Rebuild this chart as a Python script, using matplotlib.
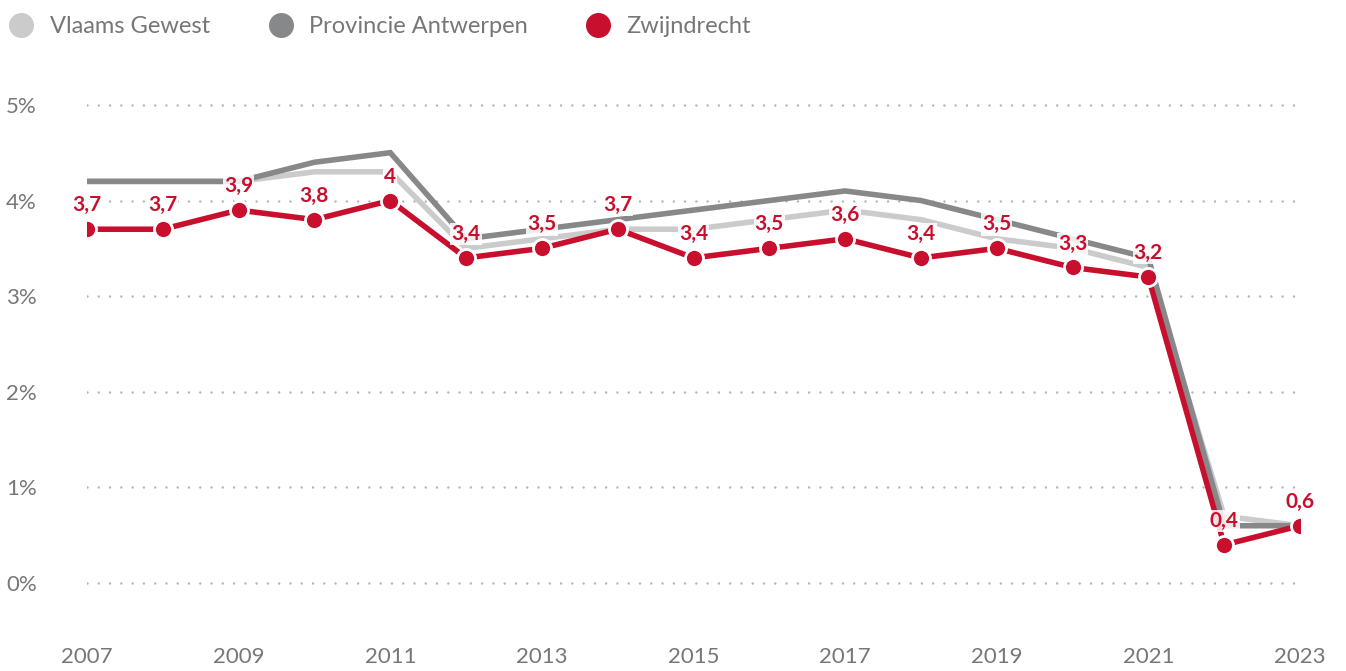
"""Werkloosheidsgraad: Vlaams Gewest, Provincie Antwerpen en Zwijndrecht."""

import matplotlib

matplotlib.use("Agg")
import matplotlib.pyplot as plt
from matplotlib.lines import Line2D

years = list(range(2007, 2024))
vlaams_gewest = [4.2, 4.2, 4.2, 4.3, 4.3, 3.5, 3.6, 3.7, 3.7, 3.8, 3.9, 3.8, 3.6, 3.5, 3.3, 0.7, 0.6]
provincie_antwerpen = [4.2, 4.2, 4.2, 4.4, 4.5, 3.6, 3.7, 3.8, 3.9, 4.0, 4.1, 4.0, 3.8, 3.6, 3.4, 0.6, 0.6]
zwijndrecht = [3.7, 3.7, 3.9, 3.8, 4.0, 3.4, 3.5, 3.7, 3.4, 3.5, 3.6, 3.4, 3.5, 3.3, 3.2, 0.4, 0.6]
series_names = ["Vlaams Gewest", "Provincie Antwerpen", "Zwijndrecht"]
y_ticks = [0, 1, 2, 3, 4, 5]
x_ticks = list(range(2007, 2024, 2))

LIGHT = "#cbcbcb"
DARK = "#87888a"
RED = "#c8102e"
TEXT = "#777777"

plt.rcParams["font.family"] = ["Lato", "DejaVu Sans"]


def fmt(v: float) -> str:
    return f"{v:g}".replace(".", ",")


fig = plt.figure(figsize=(13.46, 6.71), dpi=100)
ax = fig.add_axes([87 / 1346, 41 / 671, 1213 / 1346, 550 / 671])

ax.plot(years, vlaams_gewest, color=LIGHT, lw=4, solid_joinstyle="miter", zorder=2)
ax.plot(years, provincie_antwerpen, color=DARK, lw=4, solid_joinstyle="miter", zorder=3)
ax.plot(years, zwijndrecht, color=RED, lw=4, marker="o", ms=13,
        markeredgecolor="white", markeredgewidth=2, zorder=4)

for x, v in zip(years, zwijndrecht):
    ax.annotate(fmt(v), (x, v), xytext=(0, 10), textcoords="offset points",
                ha="center", va="bottom", color=RED, fontsize=15, fontweight="bold",
                bbox=dict(boxstyle="square,pad=0.05", fc="white", ec="none", alpha=0.85),
                zorder=5)

for t in y_ticks:
    ax.axhline(t, color="#b5b5b5", lw=1.8, linestyle=(0, (0.01, 4.5)),
               dash_capstyle="round", zorder=1)

ax.set_xlim(2007, 2023)
ax.set_ylim(-0.49, 5.26)
ax.set_yticks(y_ticks)
ax.set_yticklabels([f"{t}%" for t in y_ticks])
ax.set_xticks(x_ticks)
ax.set_xticklabels([str(x) for x in x_ticks])
ax.tick_params(length=0, labelsize=16, labelcolor=TEXT)
ax.tick_params(axis="x", pad=12)
ax.tick_params(axis="y", pad=36)
for side in ax.spines.values():
    side.set_visible(False)
ax.set_facecolor("none")

handles = [Line2D([], [], linestyle="none", marker="o", ms=17, color=c)
           for c in (LIGHT, DARK, RED)]
leg = fig.legend(handles, series_names, loc="upper left", bbox_to_anchor=(0.0, 0.99),
                 ncol=3, frameon=False, fontsize=17, handlelength=1.0,
                 handletextpad=0.7, columnspacing=2.5, borderaxespad=0.0,
                 borderpad=0.4)
for t in leg.get_texts():
    t.set_color(TEXT)

fig.savefig("out.png", dpi=100)
